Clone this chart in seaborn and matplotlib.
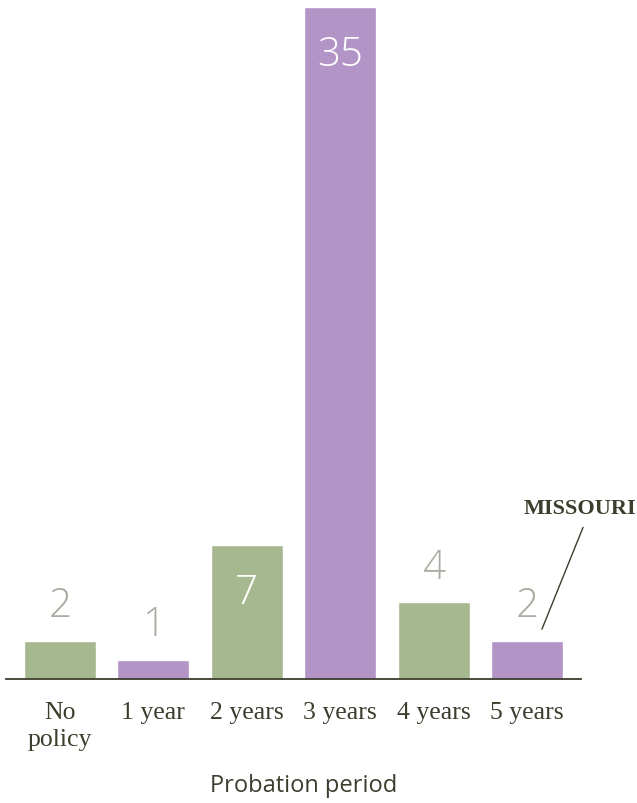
import pandas as pd
import matplotlib.pyplot as plt
import seaborn as sns

# data
periods = ['No\npolicy', '1 year', '2 years', '3 years', '4 years', '5 years']
counts = [2, 1, 7, 35, 4, 2]
bar_colors = ['#a6b88f', '#b394c6', '#a6b88f', '#b394c6', '#a6b88f', '#b394c6']

df = pd.DataFrame({'period': periods, 'count': counts})

sns.set_style('white')
plt.rcParams['font.family'] = ['Open Sans', 'DejaVu Sans']

fig = plt.figure(figsize=(6.37, 8.04), dpi=100)
ax = fig.add_axes([0.0094, 0.1542, 0.9027, 0.8358])

sns.barplot(data=df, x='period', y='count', hue='period', palette=bar_colors,
            width=0.77, legend=False, ax=ax, saturation=1)

ax.set_xlim(-0.578, 5.578)
ax.set_ylim(0, 35)

# value labels
for i, v in enumerate(counts):
    if v >= 7:
        ax.text(i, v - 1.4, str(v), ha='center', va='top', color='white',
                fontsize=29, fontweight='light')
    else:
        ax.text(i, v + 0.75, str(v), ha='center', va='bottom', color='#a8aba0',
                fontsize=29, fontweight='light')

# Missouri callout
ax.plot([5.16, 5.6], [2.6, 7.9], color='#3d3d2d', lw=1, clip_on=False)
ax.text(5.57, 8.9, 'MISSOURI', ha='center', va='center', color='#3d3d2d',
        fontsize=16, fontweight='bold', family='Liberation Serif', clip_on=False)

sns.despine(ax=ax, left=True, top=True, right=True)
ax.spines['bottom'].set_color('#3d3d2d')
ax.spines['bottom'].set_linewidth(1.3)
ax.set_yticks([])
ax.set_ylabel('')
ax.tick_params(axis='x', length=0, pad=16)
for lbl in ax.get_xticklabels():
    lbl.set_family('Liberation Serif')
    lbl.set_fontsize(18.5)
    lbl.set_color('#3d3d2d')
    lbl.set_linespacing(1.3)
    lbl.set_va('top')

ax.set_xlabel('Probation period', fontsize=17, color='#3d3d2d', va='center')
ax.xaxis.set_label_coords(0.518, -0.157)

plt.savefig('out.png', dpi=100)
